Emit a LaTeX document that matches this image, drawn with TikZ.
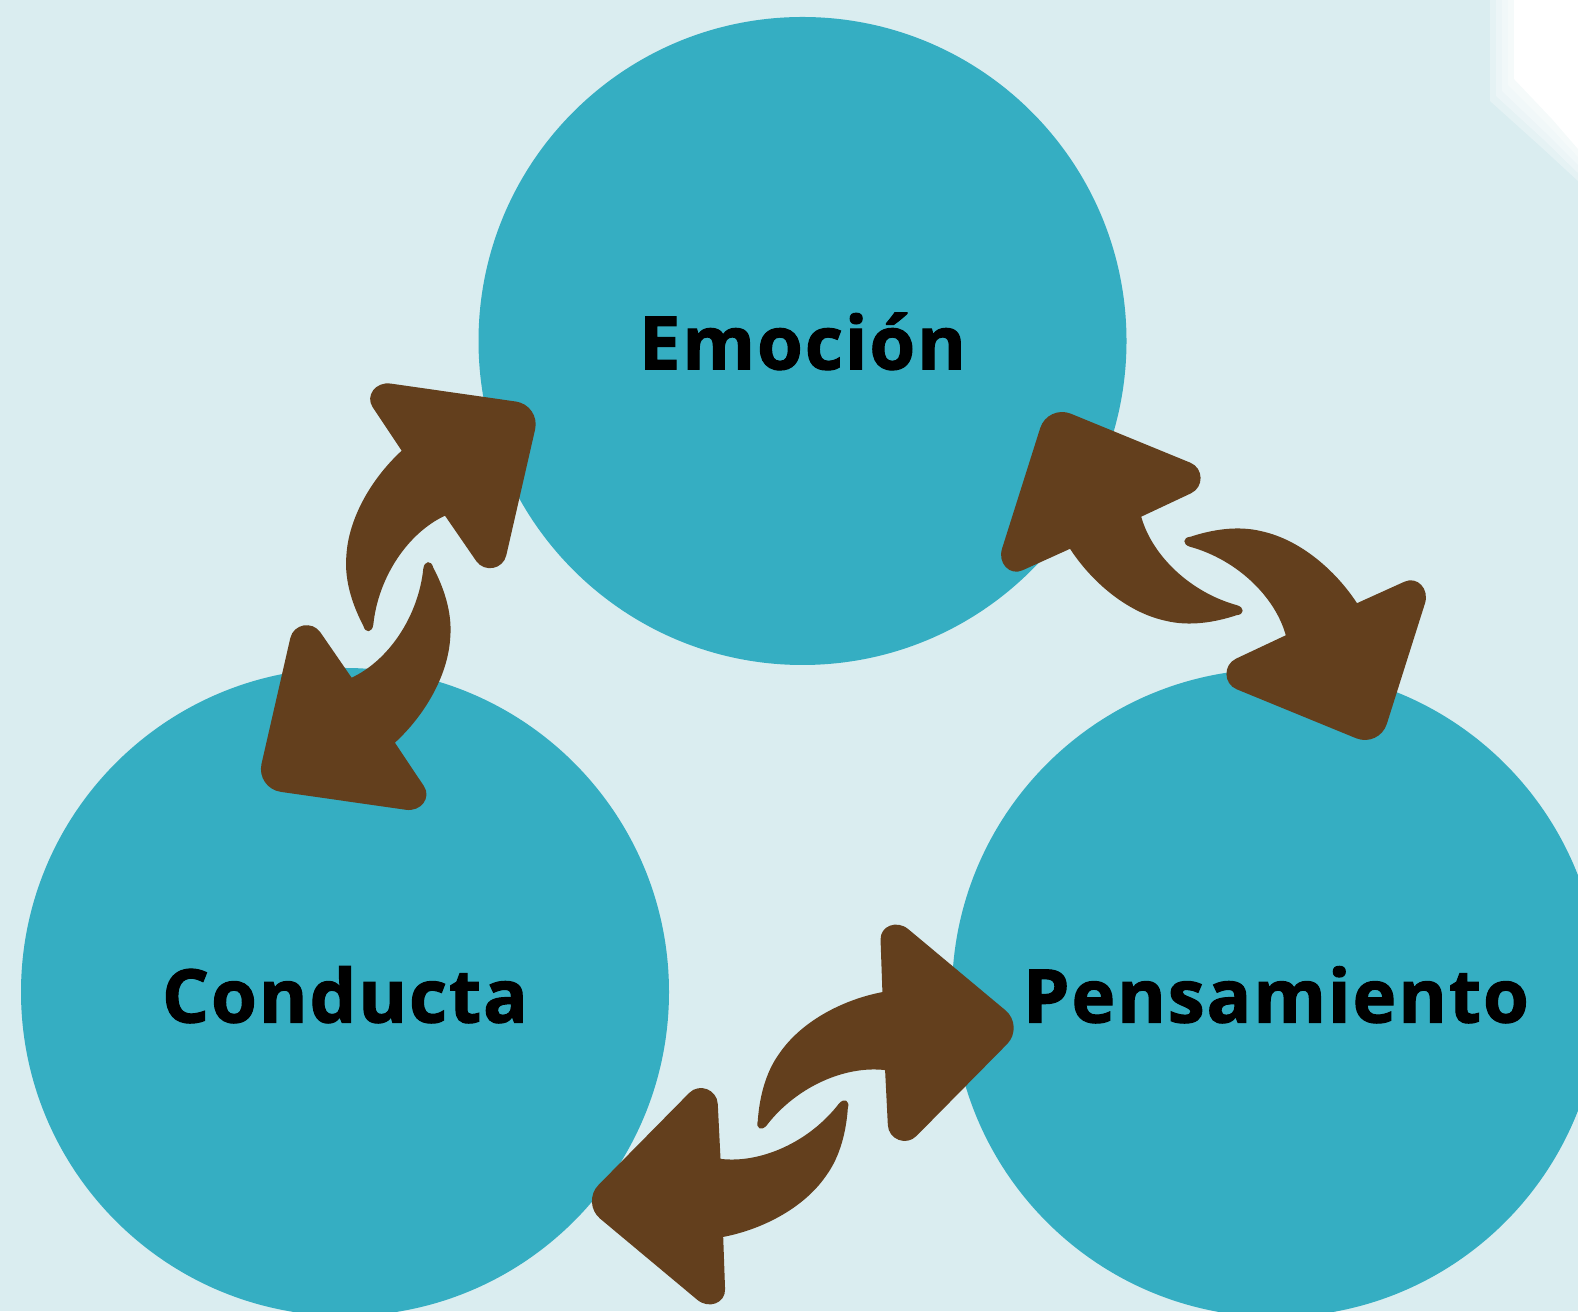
\documentclass[tikz,border=0pt]{standalone}
\usepackage{fontspec}
\setmainfont{Open Sans}
\newfontfamily\labfont{Open Sans}[BoldFeatures={FakeBold=1.5,LetterSpace=2.7}]
\definecolor{bgcol}{RGB}{218,237,240}
\definecolor{tealcol}{RGB}{53,174,194}
\definecolor{browncol}{RGB}{99,63,29}
\newcommand{\myarrowpath}{(3.4,146) -- (-25.6,189.4) .. controls (-33.4,201.0) and (-22.5,215.3) .. (-7.5,213.1) -- (117.65,195.15) .. controls (131.0,193.2) and (139.8,180.4) .. (136.8,167.2) -- (108.0,41.4) .. controls (104.8,27.3) and (86.1,23.8) .. (77.9,35.7) -- (46.7,81) .. controls (10,64) and (-20,20) .. (-25,-28) .. controls (-26,-36) and (-33,-37) .. (-35,-29) .. controls (-45,-10) and (-54,15) .. (-52,40) .. controls (-50,80) and (-25,120) .. (3.4,146) -- cycle}
\newcommand{\myarrowpair}[3]{%
  \begin{scope}[shift={(#1,#2)},rotate=#3]
    \fill[browncol] \myarrowpath;
    \fill[browncol,rotate=180] \myarrowpath;
  \end{scope}}
\tikzset{
  bubble/.style={circle,fill=tealcol,draw=none,inner sep=0pt,minimum size=648pt},
  label/.style={anchor=base,inner sep=0pt,font=\labfont\fontsize{74}{80}\selectfont\bfseries,text=black},
  glow/.style={white,opacity=0.3}
}
\begin{document}
\begin{tikzpicture}[x=1pt,y=1pt]
\useasboundingbox (0,0) rectangle (1578,1311);
\fill[bgcol] (0,0) rectangle (1578,1311);
\clip (0,0) rectangle (1578,1311);
% top-right light blob
\fill[glow] (1490,1311) -- (1490,1210) -- (1540,1165) -- (1578,1130) -- (1578,1311) -- cycle;
\fill[glow] (1496,1311) -- (1496,1215) -- (1543,1172) -- (1578,1138) -- (1578,1311) -- cycle;
\fill[glow] (1502,1311) -- (1502,1220) -- (1546,1178) -- (1578,1146) -- (1578,1311) -- cycle;
\fill[glow] (1508,1311) -- (1508,1226) -- (1549,1185) -- (1578,1154) -- (1578,1311) -- cycle;
\fill[white] (1514,1311) -- (1514,1232) -- (1552,1192) -- (1578,1162) -- (1578,1311) -- cycle;
% circles
\node[bubble] (emo) at (802.5,970) {};
\node[bubble] (con) at (345,319) {};
\node[bubble] (pen) at (1276,318) {};
% labels
\node[label] (emot) at (802.5,941.6) {Emoción};
\node[label] (cont) at (345,288.5) {Conducta};
\node[label] (pent) at (1276,288.5) {Pensamiento};
% arrow pairs
\myarrowpair{398.3}{714.3}{0}
\myarrowpair{1213.5}{735}{80.6}
\myarrowpair{802.8}{196.5}{-31.7}
\end{tikzpicture}
\end{document}
